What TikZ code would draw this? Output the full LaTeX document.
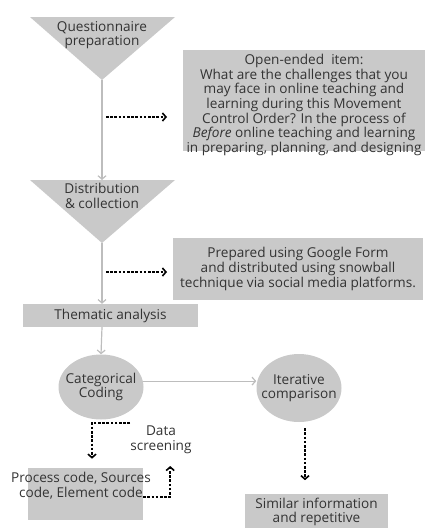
\documentclass[tikz,border=0pt]{standalone}
\usepackage{fontspec}
\setmainfont{Open Sans}
\usetikzlibrary{arrows.meta,shapes.geometric}
\definecolor{boxgray}{HTML}{C9C9C9}
\definecolor{linegray}{HTML}{BDBDBD}
\definecolor{inkgray}{HTML}{333333}
\tikzset{>={Straight Barb[length=3.5pt,width=8pt]}}
\tikzset{
	lbl/.style={align=center, text=inkgray, font=\fontsize{13.6}{14.7}\selectfont, inner sep=0pt},
	greybox/.style={fill=boxgray, inner sep=0pt},
	blob/.style={ellipse, fill=boxgray, inner sep=0pt},
	greyarrow/.style={->, draw=linegray, line width=1.2pt},
	dotarrow/.style={->, black, line width=1.6pt, dash pattern=on 2.6pt off 1.6pt}
}

\begin{document}
\begin{tikzpicture}[x=1pt, y=1pt]
		\useasboundingbox (0,0) rectangle (425,-528);

			\fill[boxgray] (30,-17) -- (175,-17) -- (102,-80) -- cycle;
			\coordinate (qapex) at (102,-80);
			\node[lbl] (qprep) at (102,-35) {Questionnaire\\preparation};

			\fill[boxgray] (30,-180) -- (175,-180) -- (102,-243) -- cycle;
			\coordinate (dtop) at (102,-180);
			\coordinate (dapex) at (102,-243);
			\node[lbl] (dist) at (102,-196) {Distribution\\\& collection};

			\node[greybox, minimum width=242pt, minimum height=101pt] (openitem) at (304,-100) {};
			\node[lbl] at (304,-105) {Open-ended\ \ item:\\What are the challenges that you\\may face in online teaching and\\learning during this Movement\\Control Order? In the process of\\\textit{Before} online teaching and learning\\in preparing, planning, and designing};

			\node[greybox, minimum width=250pt, minimum height=62pt] (gform) at (298,-269) {};
			\node[lbl] at (gform) {Prepared using Google Form\\and distributed using snowball\\technique via social media platforms.};

			\node[greybox, lbl, minimum width=175pt, minimum height=23pt] (thematic) at (110.5,-315.5) {Thematic analysis};

			\node[blob, minimum width=85pt, minimum height=65pt] (catcode) at (101,-387) {};
			\node[lbl] at (catcode) {Categorical\\Coding};
			\node[blob, minimum width=85pt, minimum height=68pt] (iter) at (299,-388) {};
			\node[lbl] at (iter) {Iterative\\comparison};

			\node[greybox, minimum width=115pt, minimum height=52pt] (codes) at (85.5,-494) {};
			\node[lbl] (codetext) at (81,-486) {Process code, Sources\\code, Element code};
			\node[lbl] (screen) at (161,-440) {Data\\screening};

			\node[greybox, minimum width=143pt, minimum height=52pt] (similar) at (316.5,-520) {};
			\node[lbl] (simtext) at (316.5,-512) {Similar information\\and repetitive};

			\draw[greyarrow] (qapex) -- (dtop);
			\draw[greyarrow] (dapex) -- (thematic.north -| dapex);
			\draw[greyarrow] (thematic.south -| dapex) -- (catcode.north);
			\draw[greyarrow] (catcode.8) -- (catcode.8 -| iter.west);

			\draw[dotarrow] (106,-117) -- (167,-117);
			\draw[dotarrow] (106,-272) -- (167,-272);
			\draw[dotarrow] ([xshift=29pt,yshift=-3pt]catcode.south) -- ([xshift=-9pt,yshift=-3pt]catcode.south) -- ++(0,-36);
			\draw[dotarrow] ([yshift=-3pt]codes.east) -- ++(27,0) -- ++(0,31);
			\draw[dotarrow] ([xshift=6pt,yshift=-6pt]iter.south) -- ++(0,-52);

		\end{tikzpicture}
\end{document}
